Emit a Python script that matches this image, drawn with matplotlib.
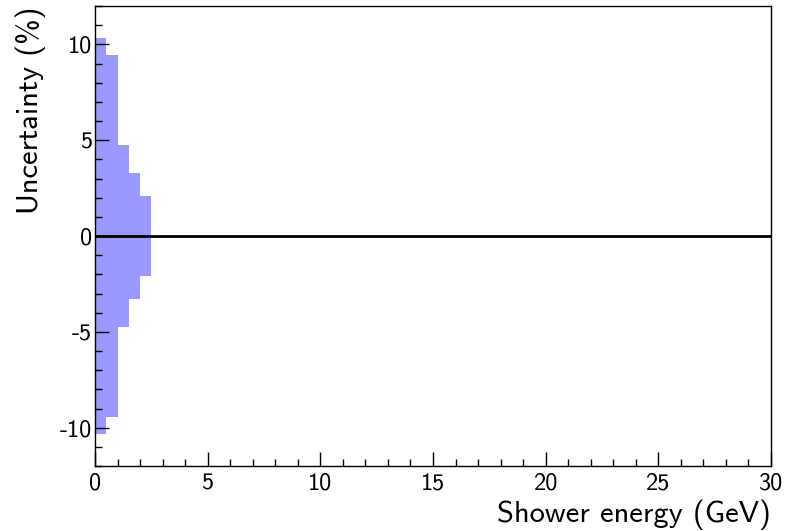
import matplotlib
matplotlib.use("Agg")
import matplotlib.pyplot as plt
from matplotlib.ticker import MultipleLocator

# Binned uncertainty band (symmetric about zero)
bin_edges = [0.0, 0.5, 1.0, 1.5, 2.0, 2.5]
uncertainty = [10.35, 9.45, 4.77, 3.28, 2.1]

plt.rcParams['font.family'] = ['cmss10', 'DejaVu Sans']
plt.rcParams['axes.unicode_minus'] = False

fig = plt.figure(figsize=(7.86, 5.31), dpi=100)
ax = fig.add_axes([95/786, 65/531, 676/786, 460/531])

lefts = bin_edges[:-1]
widths = [b - a for a, b in zip(bin_edges[:-1], bin_edges[1:])]
ax.bar(lefts, [2*u for u in uncertainty], width=widths,
       bottom=[-u for u in uncertainty], align='edge',
       color='#9999ff', edgecolor='none', linewidth=0)

ax.axhline(0, color='black', linewidth=2)

ax.set_xlim(0, 30)
ax.set_ylim(-12, 12)

ax.xaxis.set_major_locator(MultipleLocator(5))
ax.xaxis.set_minor_locator(MultipleLocator(1))
ax.yaxis.set_major_locator(MultipleLocator(5))
ax.yaxis.set_minor_locator(MultipleLocator(1))

ax.tick_params(which='both', direction='in', top=False, right=False,
               width=1, color='black')
ax.tick_params(which='major', length=10, labelsize=17.5)
ax.tick_params(which='minor', length=5)
ax.tick_params(axis='x', pad=5)
ax.tick_params(axis='y', pad=2)

for s in ax.spines.values():
    s.set_linewidth(1)

ax.set_xlabel('Shower energy (GeV)', fontsize=22, loc='right', labelpad=3)
ax.set_ylabel('Uncertainty (%)', fontsize=22, loc='top', labelpad=10)

fig.savefig('out.png', dpi=100)
